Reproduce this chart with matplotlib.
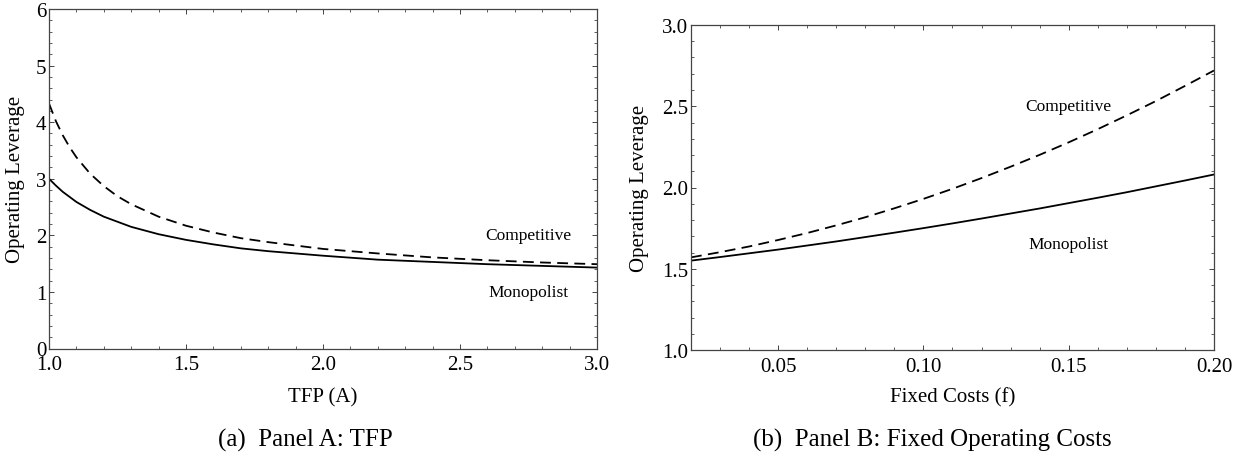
import matplotlib
matplotlib.use("Agg")
import matplotlib.pyplot as plt
from matplotlib.ticker import MultipleLocator, FormatStrFormatter

plt.rcParams['font.family'] = ['Liberation Serif', 'DejaVu Serif']

# --- data ---
# Panel A: operating leverage vs TFP (A)
tfp = [1.00, 1.025, 1.05, 1.075, 1.10, 1.15, 1.20, 1.25, 1.30, 1.40,
       1.50, 1.60, 1.70, 1.80, 2.00, 2.20, 2.40, 2.60, 2.80, 3.00]
tfp_monopolist = [3.00, 2.88, 2.77, 2.68, 2.59, 2.45, 2.33, 2.24, 2.15, 2.02,
                  1.92, 1.84, 1.77, 1.72, 1.64, 1.57, 1.53, 1.49, 1.46, 1.43]
tfp_competitive = [4.33, 4.02, 3.77, 3.56, 3.38, 3.09, 2.87, 2.69, 2.55, 2.33,
                   2.17, 2.05, 1.95, 1.88, 1.76, 1.68, 1.61, 1.56, 1.52, 1.49]

# Panel B: operating leverage vs fixed costs (f)
fixed = [0.02, 0.03, 0.04, 0.05, 0.06, 0.07, 0.08, 0.09, 0.10, 0.11,
         0.12, 0.13, 0.14, 0.15, 0.16, 0.17, 0.18, 0.19, 0.20]
fixed_monopolist = [1.550, 1.572, 1.595, 1.618, 1.643, 1.668, 1.695, 1.722, 1.750, 1.779,
                    1.809, 1.840, 1.871, 1.904, 1.937, 1.971, 2.007, 2.043, 2.080]
fixed_competitive = [1.570, 1.602, 1.637, 1.677, 1.720, 1.767, 1.817, 1.872, 1.930, 1.992,
                     2.058, 2.128, 2.201, 2.278, 2.359, 2.444, 2.532, 2.625, 2.720]

W, H = 1251, 464
fig = plt.figure(figsize=(W / 100, H / 100), dpi=100)

frame_col = '#444444'
dash = (0, (6, 3.5))


def style_axes(ax):
    for s in ax.spines.values():
        s.set_color(frame_col)
        s.set_linewidth(0.9)
    ax.tick_params(which='both', direction='in', top=True, right=True,
                   colors=frame_col, labelcolor='black', labelsize=15)
    ax.tick_params(axis='x', which='both', pad=5)
    ax.tick_params(axis='y', which='both', pad=2)
    ax.tick_params(which='major', length=3.5, width=0.7)
    ax.tick_params(which='minor', length=2.0, width=0.6)


# Panel A
axA = fig.add_axes([49 / W, 1 - 349.5 / H, (597 - 49) / W, (349.5 - 10) / H])
axA.plot(tfp, tfp_monopolist, color='black', lw=1.3)
axA.plot(tfp, tfp_competitive, color='black', lw=1.3, linestyle=dash)
axA.set_xlim(1.0, 3.0)
axA.set_ylim(0, 6)
axA.xaxis.set_major_locator(MultipleLocator(0.5))
axA.xaxis.set_minor_locator(MultipleLocator(0.1))
axA.yaxis.set_major_locator(MultipleLocator(1))
axA.yaxis.set_minor_locator(MultipleLocator(0.2))
axA.xaxis.set_major_formatter(FormatStrFormatter('%.1f'))
axA.yaxis.set_major_formatter(FormatStrFormatter('%d'))
style_axes(axA)
axA.text(2.75, 2.0, 'Competitive', ha='center', va='center', fontsize=12.5)
axA.text(2.75, 1.0, 'Monopolist', ha='center', va='center', fontsize=12.5)
axA.set_ylabel('Operating Leverage', fontsize=15)
axA.yaxis.set_label_coords(-0.044, 0.5)
fig.text((49 + 597) / 2 / W, 1 - 398 / H, 'TFP (A)', ha='center', va='center', fontsize=15)
fig.text(305 / W, 1 - 440 / H, '(a)  Panel A: TFP', ha='center', va='center', fontsize=18)

# Panel B
axB = fig.add_axes([691 / W, 1 - 351 / H, (1214 - 691) / W, (351 - 26) / H])
axB.plot(fixed, fixed_monopolist, color='black', lw=1.3)
axB.plot(fixed, fixed_competitive, color='black', lw=1.3, linestyle=dash)
axB.set_xlim(0.02, 0.20)
axB.set_ylim(1.0, 3.0)
axB.set_xticks([0.05, 0.10, 0.15, 0.20])
axB.xaxis.set_minor_locator(MultipleLocator(0.01))
axB.yaxis.set_major_locator(MultipleLocator(0.5))
axB.yaxis.set_minor_locator(MultipleLocator(0.1))
axB.xaxis.set_major_formatter(FormatStrFormatter('%.2f'))
axB.yaxis.set_major_formatter(FormatStrFormatter('%.1f'))
style_axes(axB)
axB.text(0.150, 2.5, 'Competitive', ha='center', va='center', fontsize=12.5)
axB.text(0.150, 1.65, 'Monopolist', ha='center', va='center', fontsize=12.5)
axB.set_ylabel('Operating Leverage', fontsize=15)
axB.yaxis.set_label_coords(-0.080, 0.5)
fig.text((691 + 1214) / 2 / W, 1 - 398 / H, 'Fixed Costs (f)', ha='center', va='center', fontsize=15)
fig.text(932 / W, 1 - 440 / H, '(b)  Panel B: Fixed Operating Costs', ha='center', va='center', fontsize=18)

fig.savefig('out.png', dpi=100)
